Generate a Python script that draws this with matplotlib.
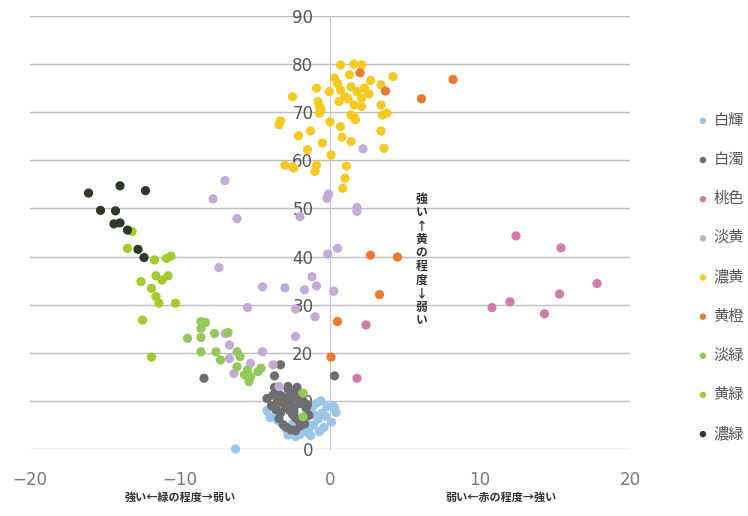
import matplotlib.pyplot as plt

plt.rcParams['font.family'] = ['Noto Sans CJK JP', 'DejaVu Sans']

# 白輝
hakki_x = [-4.2, -4.0, -3.6, -3.3, -2.9, -2.6, -2.3, -2.0, -1.7, -1.4, -1.1, -0.8, -0.5, -0.2, 0.2, 0.4,
           -1.2, -0.9, -0.6, -0.3, 0.1, -1.6, -1.9, -2.5, -3.0, -3.5, -1.3, -0.7, -2.2, -2.8, -1.0, 0.3,
           -0.4, -1.5, -6.3]
hakki_y = [8.0, 6.5, 7.2, 5.5, 4.0, 3.2, 2.6, 3.0, 3.6, 4.2, 5.0, 6.2, 7.5, 8.8, 9.0, 7.6,
           8.5, 9.5, 10.0, 6.8, 5.6, 6.0, 4.8, 5.2, 4.6, 6.0, 2.8, 3.6, 3.8, 2.9, 7.0, 8.6,
           4.5, 9.3, 0.0]

# 白濁
hakudaku_x = [-4.2, -3.8, -3.5, -3.2, -3.0, -2.8, -2.6, -2.4, -2.2, -2.0, -1.8, -1.6, -1.4, -3.9, -3.6,
              -3.3, -3.0, -2.7, -2.5, -2.3, -2.1, -1.9, -3.4, -3.1, -2.9, -2.6, -2.3, -2.0, -1.7, -3.7,
              -2.8, -2.4, -1.5, -8.4, -3.3, -3.7, -2.2, 0.3, -3.2, -2.7, -3.5, -2.4]
hakudaku_y = [10.5, 11.2, 12.0, 11.0, 10.2, 12.5, 9.8, 11.5, 10.8, 9.5, 10.0, 8.5, 7.0, 9.0, 8.2,
              7.5, 8.8, 8.0, 7.2, 6.5, 6.0, 5.5, 6.3, 5.0, 4.5, 4.0, 3.8, 4.8, 5.2, 12.8,
              13.0, 8.6, 9.2, 14.7, 17.5, 15.2, 12.8, 15.2, 9.6, 10.9, 10.0, 7.8]

# 桃色
momo_x = [12.4, 15.4, 17.8, 15.3, 12.0, 10.8, 14.3, 2.4, 1.8]
momo_y = [44.3, 41.8, 34.4, 32.2, 30.6, 29.4, 28.1, 25.8, 14.7]

# 淡黄
tanki_x = [-7.0, -7.8, -6.2, -0.2, -0.1, -2.0, -0.15, 0.5, -7.4, -4.5, -3.0, -1.2, -0.9, -1.7, 0.25,
           -5.5, -2.3, -1.0, 1.8, 1.8, 2.2, -2.3, -4.5, -7.0, -6.7, -6.7, -6.4, -5.3, -3.8, -3.4]
tanki_y = [55.8, 52.0, 47.9, 52.1, 53.0, 48.3, 40.5, 41.7, 37.7, 33.7, 33.5, 35.8, 33.9, 33.1, 32.8,
           29.4, 29.1, 27.5, 50.2, 49.4, 62.4, 23.4, 20.2, 24.0, 21.6, 18.8, 15.7, 17.8, 17.5, 13.0]

# 濃黄
nouki_x = [0.7, 1.6, 2.1, 0.3, 1.3, 2.7, 4.2, 3.4, -0.9, -2.5, -0.05, 0.7, 1.4, 1.8, 2.3, 1.0,
           2.1, 0.6, -0.8, -0.7, -0.7, 1.6, 2.1, 3.4, 3.8, 3.5, 1.6, 1.7, -3.4, 0.0, 0.7, -1.3,
           3.4, -2.1, 0.8, 1.4, -0.5, 3.6, -1.5, 0.07, -3.0, -2.5, -0.9, -1.0, 1.1, 1.0, 0.85,
           -2.4, 1.4, -0.6, -3.3, 0.5, 2.6, 1.2]
nouki_y = [79.8, 80.0, 79.8, 77.1, 77.8, 76.6, 77.4, 75.7, 75.0, 73.2, 74.3, 74.6, 75.3, 74.3, 75.0, 73.2,
           72.9, 72.2, 72.2, 71.2, 69.8, 71.5, 71.2, 71.5, 69.8, 69.4, 69.1, 68.4, 67.4, 68.0, 67.0, 66.1,
           66.1, 65.1, 64.8, 63.9, 63.6, 62.5, 62.2, 61.1, 59.0, 58.7, 59.0, 57.7, 58.8, 56.3, 54.2,
           58.4, 69.4, 70.5, 68.2, 76.0, 73.8, 72.8]

# 黄橙
kidai_x = [2.0, 3.7, 6.1, 8.2, 2.7, 4.5, 3.3, 0.5, 0.07]
kidai_y = [78.2, 74.4, 72.8, 76.8, 40.3, 39.9, 32.1, 26.5, 19.1]

# 淡緑
tanryoku_x = [-8.6, -8.3, -8.6, -9.5, -8.6, -7.7, -6.8, -8.6, -7.6, -7.3, -6.2, -6.0, -6.2, -5.5,
              -5.7, -5.3, -4.8, -5.4, -4.6, -1.8, -1.8]
tanryoku_y = [26.5, 26.3, 25.1, 23.0, 23.2, 24.0, 24.2, 20.2, 20.2, 18.5, 20.2, 19.2, 17.1, 16.4,
              15.4, 15.0, 16.1, 14.0, 16.8, 6.7, 11.6]

# 黄緑
kimidori_x = [-13.2, -13.5, -11.7, -10.9, -10.6, -11.6, -10.8, -11.2, -12.6, -11.9, -11.6, -11.4,
              -10.3, -12.5, -11.9]
kimidori_y = [45.2, 41.7, 39.3, 39.6, 40.1, 36.0, 36.0, 35.1, 34.8, 33.4, 31.7, 30.3,
              30.3, 26.8, 19.1]

# 濃緑
nouryoku_x = [-16.1, -14.0, -12.3, -15.3, -14.3, -14.4, -14.0, -13.5, -12.8, -12.4]
nouryoku_y = [53.2, 54.7, 53.7, 49.6, 49.5, 46.8, 47.0, 45.5, 41.5, 39.8]

series = [
    ('白輝', hakki_x, hakki_y, '#9cc5ea'),
    ('白濁', hakudaku_x, hakudaku_y, '#6e6e6e'),
    ('桃色', momo_x, momo_y, '#d27bab'),
    ('淡黄', tanki_x, tanki_y, '#c4aad9'),
    ('濃黄', nouki_x, nouki_y, '#f7c923'),
    ('黄橙', kidai_x, kidai_y, '#ea7a2c'),
    ('淡緑', tanryoku_x, tanryoku_y, '#93c95a'),
    ('黄緑', kimidori_x, kimidori_y, '#a3cb2a'),
    ('濃緑', nouryoku_x, nouryoku_y, '#2d3826'),
]

fig = plt.figure(figsize=(7.48, 5.16), dpi=100)
ax = fig.add_axes([30 / 748, 67 / 516, 600 / 748, 433 / 516])

for label, xs, ys, col in series:
    ax.scatter(xs, ys, s=44, color=col, label=label, edgecolors='none', clip_on=False, zorder=3)

ax.set_xlim(-20, 20)
ax.set_ylim(0, 90)
ax.set_xticks([-20, -10, 0, 10, 20])
ax.set_yticks(range(0, 91, 10))
ax.yaxis.grid(True, color='#bdbdbd', lw=1.0)
ax.set_axisbelow(True)
for s in ['top', 'right', 'bottom']:
    ax.spines[s].set_visible(False)
ax.spines['left'].set_position(('data', 0))
ax.spines['left'].set_color('#c8c4d8')
ax.tick_params(axis='y', length=0, pad=12, labelsize=12, labelcolor='#555555')
ax.tick_params(axis='x', length=0, pad=16, labelsize=12, labelcolor='#777777')
ax.set_xticklabels(['\u221220', '\u221210', '0', '10', '20'], family='DejaVu Sans')
for t in ax.get_yticklabels():
    t.set_family('DejaVu Sans')

ax.text(-10, -0.112, '強い←緑の程度→弱い', transform=ax.get_xaxis_transform(),
        ha='center', va='center', fontsize=8, color='#333333', fontweight='bold')
ax.text(11.4, -0.112, '弱い←赤の程度→強い', transform=ax.get_xaxis_transform(),
        ha='center', va='center', fontsize=8, color='#333333', fontweight='bold')
ax.text(6.1, 39.3, '\n'.join('強い↑黄の程度↓弱い'), ha='center', va='center',
        fontsize=8.5, color='#333333', fontweight='bold', linespacing=1.05)

fig.legend(loc='center left', bbox_to_anchor=(680 / 748, 1 - 277 / 516), frameon=False,
           fontsize=11, labelspacing=1.45, handletextpad=0.1, markerscale=0.7,
           labelcolor='#555555', handlelength=1.2)

fig.savefig('out.png', dpi=100)
